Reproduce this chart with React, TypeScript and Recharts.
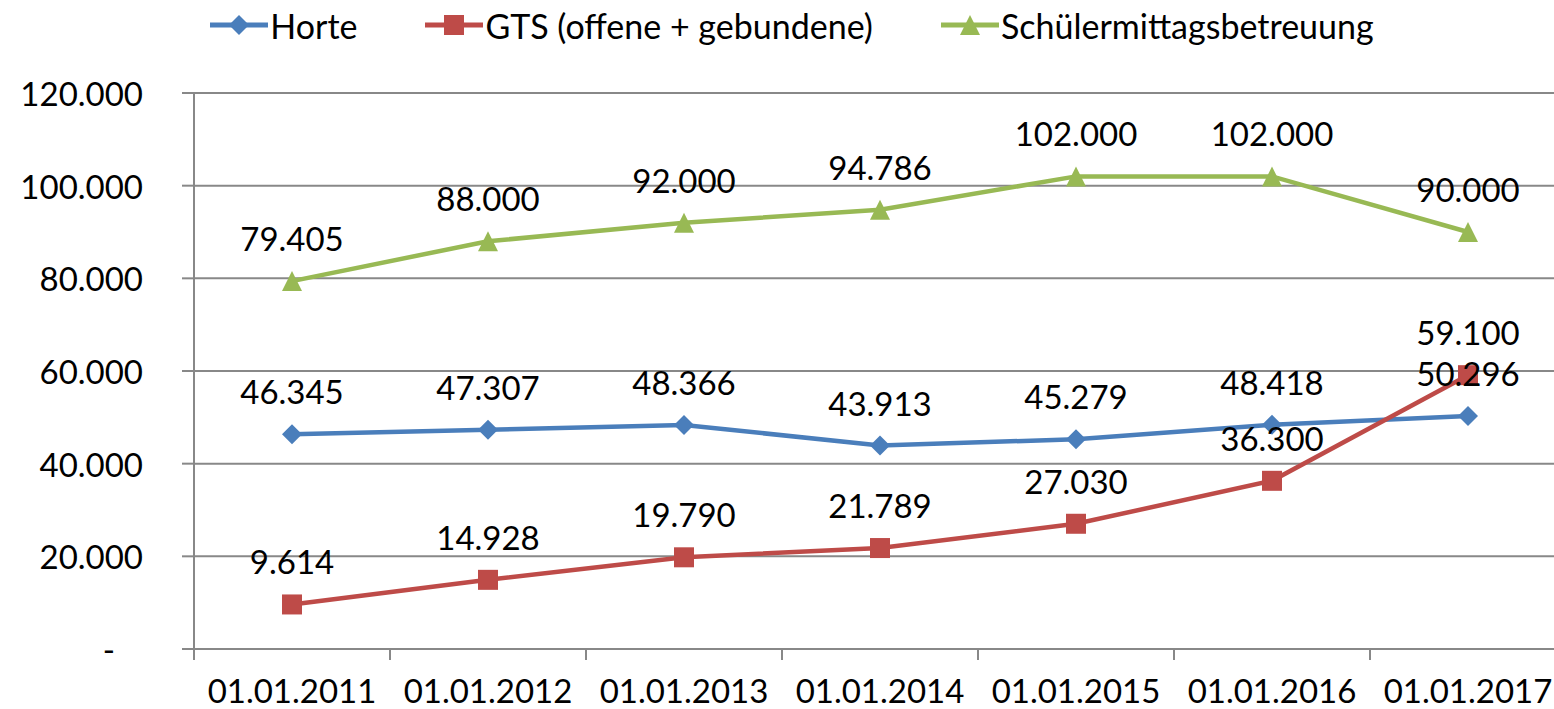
import React from 'react';
import { LineChart, Line, XAxis, YAxis, CartesianGrid, Legend } from 'recharts';

const categories = ['01.01.2011', '01.01.2012', '01.01.2013', '01.01.2014', '01.01.2015', '01.01.2016', '01.01.2017'];
const horte = [46345, 47307, 48366, 43913, 45279, 48418, 50296];
const gts = [9614, 14928, 19790, 21789, 27030, 36300, 59100];
const schueler = [79405, 88000, 92000, 94786, 102000, 102000, 90000];
const yTicks = [0, 20000, 40000, 60000, 80000, 100000, 120000];

const seriesNames = ['Horte', 'GTS (offene + gebundene)', 'Schülermittagsbetreuung'];
const colors = ['#4A7EBB', '#BE4B48', '#98B954'];

const FONT = 'Lato, "Open Sans", sans-serif';
const FS = 33;

const data = categories.map((c, i) => ({
  x: i + 0.5,
  label: c,
  horte: horte[i],
  gts: gts[i],
  schueler: schueler[i],
}));
const boundaryTicks = categories.map((_, i) => i).concat([categories.length]);
const centerTicks = categories.map((_, i) => i + 0.5);
const xTicks = boundaryTicks.concat(centerTicks).sort((a, b) => a - b);

const fmt = (v: number) => (v === 0 ? '-' : String(v).replace(/\B(?=(\d{3})+(?!\d))/g, '.'));

const Marker = ({ kind, cx, cy, color }: any) => {
  if (cx == null || cy == null) return null;
  const s = 10;
  if (kind === 'diamond') {
    return <polygon points={`${cx},${cy - s} ${cx + s},${cy} ${cx},${cy + s} ${cx - s},${cy}`} fill={color} />;
  }
  if (kind === 'square') {
    return <rect x={cx - s} y={cy - s} width={2 * s} height={2 * s} fill={color} />;
  }
  return <polygon points={`${cx},${cy - s} ${cx + s},${cy + s} ${cx - s},${cy + s}`} fill={color} />;
};

const kinds = ['diamond', 'square', 'triangle'];

const makeDot = (kind: string, color: string) => (props: any) => (
  <Marker key={`${kind}-${props.index}`} kind={kind} cx={props.cx} cy={props.cy} color={color} />
);

const makeLabel = () => (props: any) => {
  const { x, y, value, index } = props;
  return (
    <text key={index} x={x} y={y - 43} textAnchor="middle" dominantBaseline="central" fontFamily={FONT} fontSize={FS} fill="#000">
      {fmt(value)}
    </text>
  );
};

const YTick = (props: any) => {
  const { x, y, payload } = props;
  const v = payload.value;
  return (
    <text x={v === 0 ? x - 28 : x} y={y} textAnchor="end" dominantBaseline="central" fontFamily={FONT} fontSize={FS} fill="#000">
      {fmt(v)}
    </text>
  );
};

const XTick = (props: any) => {
  const { x, y, payload } = props;
  const v = payload.value as number;
  if (Number.isInteger(v)) {
    return <line x1={x} x2={x} y1={y} y2={y + 11} stroke="#888" strokeWidth={2} />;
  }
  return (
    <text x={x} y={y + 41} textAnchor="middle" dominantBaseline="central" fontFamily={FONT} fontSize={FS} fill="#000">
      {categories[Math.floor(v)]}
    </text>
  );
};

const LegendContent = () => (
  <div style={{ display: 'flex', justifyContent: 'center', alignItems: 'center', height: 50, fontFamily: FONT, fontSize: 34, color: '#000' }}>
    {seriesNames.map((n, i) => (
      <div key={n} style={{ display: 'flex', alignItems: 'center', marginLeft: i === 0 ? 0 : 68 }}>
        <svg width={58} height={24} style={{ marginRight: 2 }}>
          <line x1={0} y1={12} x2={58} y2={12} stroke={colors[i]} strokeWidth={5} />
          <Marker kind={kinds[i]} cx={29} cy={12} color={colors[i]} />
        </svg>
        <span>{n}</span>
      </div>
    ))}
  </div>
);

export default function App() {
  return (
    <div style={{ position: 'absolute', left: 0, top: 0, width: 1554, height: 709, overflow: 'hidden', background: '#fff' }}>
      <LineChart width={1584} height={709} data={data} margin={{ top: 0, right: 18, bottom: 0, left: 0 }}>
        <Legend verticalAlign="top" align="left" height={93} content={<LegendContent />} wrapperStyle={{ top: 0, left: 0, width: 1584 }} />
        <CartesianGrid vertical={false} stroke="#888" strokeWidth={2} />
        <XAxis
          type="number"
          dataKey="x"
          domain={[0, categories.length]}
          ticks={xTicks}
          tick={<XTick />}
          tickLine={false}
          tickSize={0}
          tickMargin={0}
          stroke="#888"
          strokeWidth={2}
          height={60}
          interval={0}
          allowDataOverflow
        />
        <YAxis
          type="number"
          domain={[0, 120000]}
          ticks={yTicks}
          width={194}
          tickSize={12}
          tickMargin={39}
          stroke="#888"
          strokeWidth={2}
          tick={<YTick />}
          interval={0}
        />
        <Line dataKey="horte" name={seriesNames[0]} stroke={colors[0]} strokeWidth={4.5} dot={makeDot('diamond', colors[0])} label={makeLabel()} isAnimationActive={false} />
        <Line dataKey="gts" name={seriesNames[1]} stroke={colors[1]} strokeWidth={4.5} dot={makeDot('square', colors[1])} label={makeLabel()} isAnimationActive={false} />
        <Line dataKey="schueler" name={seriesNames[2]} stroke={colors[2]} strokeWidth={4.5} dot={makeDot('triangle', colors[2])} label={makeLabel()} isAnimationActive={false} />
      </LineChart>
    </div>
  );
}
